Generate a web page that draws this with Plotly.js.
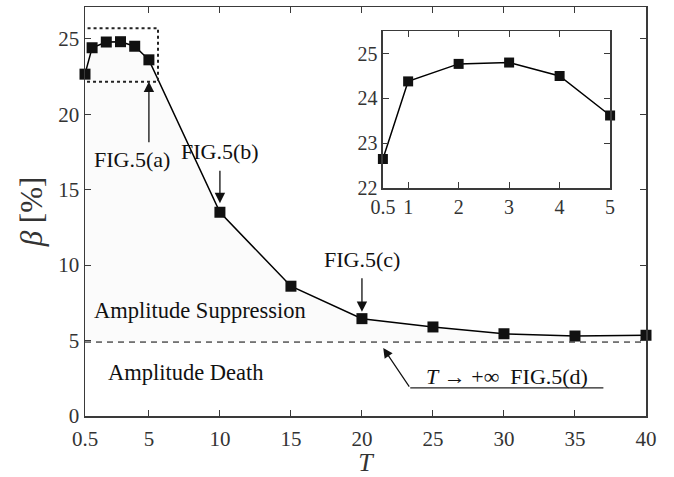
<!DOCTYPE html>
<html>
<head>
<meta charset="utf-8">
<script src="https://cdn.plot.ly/plotly-3.0.1.min.js"></script>
<style>html,body{margin:0;padding:0;background:#fff}#chart{width:674px;height:477px}</style>
</head>
<body>
<div id="chart"></div>
<script>
// Data
var T = [0.5, 1, 2, 3, 4, 5, 10, 15, 20, 25, 30, 35, 40];
var beta = [22.65, 24.4, 24.78, 24.8, 24.5, 23.6, 13.5, 8.6, 6.45, 5.9, 5.45, 5.3, 5.35];
var insetT = [0.5, 1, 2, 3, 4, 5];
var insetBeta = [22.65, 24.38, 24.77, 24.8, 24.5, 23.62];
var deathLevel = 4.9;
var xTicks = [0.5, 5, 10, 15, 20, 25, 30, 35, 40];
var xTickText = ['0.5', '5', '10', '15', '20', '25', '30', '35', '40'];
var yTicks = [0, 5, 10, 15, 20, 25];
var insetXTicks = [0.5, 1, 2, 3, 4, 5];
var insetXTickText = ['0.5', '1', '2', '3', '4', '5'];
var insetYTicks = [22, 23, 24, 25];

var font = 'Liberation Serif, Times New Roman, serif';
var frame = '#3a3a3a';

var traces = [
  {x: [xTicks[0], xTicks[xTicks.length - 1]], y: [deathLevel, deathLevel], mode: 'lines',
   line: {color: '#000', width: 1, dash: '6px,5px'}, hoverinfo: 'skip', showlegend: false},
  {x: T, y: beta, mode: 'lines+markers', fill: 'tonexty', fillcolor: '#fbfbfb', cliponaxis: false,
   line: {color: '#000', width: 1.5}, marker: {symbol: 'square', size: 11, color: '#111'}, showlegend: false},
  {x: insetT, y: insetBeta, xaxis: 'x2', yaxis: 'y2', mode: 'lines+markers', cliponaxis: false,
   line: {color: '#000', width: 1.5}, marker: {symbol: 'square', size: 10, color: '#111'}, showlegend: false}
];

var axCommon = {showline: true, linecolor: frame, linewidth: 1.5, mirror: 'ticks', ticks: 'inside',
  ticklen: 6, tickcolor: frame, tickwidth: 1, showgrid: false, zeroline: false,
  tickfont: {family: font, size: 21, color: '#333'}};

var layout = {
  width: 674, height: 477,
  margin: {l: 85, r: 28, t: 7, b: 61},
  paper_bgcolor: '#fff', plot_bgcolor: '#fff',
  font: {family: font, color: '#111'},
  xaxis: Object.assign({}, axCommon, {range: [0.5, 40], tickvals: xTicks, ticktext: xTickText,
    ticklabelstandoff: 3,
    title: {text: '<i>T</i>', font: {family: font, size: 26, color: '#333'}, standoff: 0}}),
  yaxis: Object.assign({}, axCommon, {range: [0, 27.1], tickvals: yTicks,
    title: {text: '<i>β</i> [%]', font: {family: font, size: 31, color: '#333'}, standoff: 6}}),
  xaxis2: Object.assign({}, axCommon, {domain: [0.531, 0.936], anchor: 'y2', range: [0.5, 5],
    tickvals: insetXTicks, ticktext: insetXTickText, tickfont: {family: font, size: 20, color: '#333'}}),
  yaxis2: Object.assign({}, axCommon, {domain: [0.557, 0.941], anchor: 'x2', range: [22, 25.5],
    tickvals: insetYTicks, tickfont: {family: font, size: 20, color: '#333'}}),
  shapes: [
    {type: 'rect', xref: 'x', yref: 'y', x0: 0.22, x1: 5.64, y0: 22.15, y1: 25.7,
     line: {color: '#222', width: 2, dash: 'dot'}},
    {type: 'line', xref: 'x', yref: 'y', x0: 23.4, x1: 37.0, y0: 1.86, y1: 1.86,
     line: {color: '#222', width: 1.2}}
  ],
  annotations: [
    {x: 5, y: 22.15, ax: 0, ay: 62, text: '', showarrow: true, arrowhead: 2, arrowsize: 1.6, arrowwidth: 1.3, arrowcolor: '#111'},
    {x: 3.81, y: 17.0, text: 'FIG.5(a)', showarrow: false, font: {family: font, size: 22, color: '#111'}},
    {x: 10, y: 14.1, ax: 0, ay: -34, text: '', showarrow: true, arrowhead: 2, arrowsize: 1.6, arrowwidth: 1.3, arrowcolor: '#111'},
    {x: 10, y: 17.5, text: 'FIG.5(b)', showarrow: false, font: {family: font, size: 22, color: '#111'}},
    {x: 20, y: 6.9, ax: 0, ay: -35, text: '', showarrow: true, arrowhead: 2, arrowsize: 1.6, arrowwidth: 1.3, arrowcolor: '#111'},
    {x: 20, y: 10.35, text: 'FIG.5(c)', showarrow: false, font: {family: font, size: 22, color: '#111'}},
    {x: 21.5, y: 4.5, ax: 27, ay: 40, text: '', showarrow: true, arrowhead: 2, arrowsize: 1.6, arrowwidth: 1.2, arrowcolor: '#111'},
    {x: 30.2, y: 2.65, text: '<i>T</i> → +∞  FIG.5(d)', showarrow: false, font: {family: font, size: 22, color: '#111'}},
    {x: 8.6, y: 7.0, text: 'Amplitude Suppression', showarrow: false, font: {family: font, size: 22.5, color: '#111'}},
    {x: 7.6, y: 2.85, text: 'Amplitude Death', showarrow: false, font: {family: font, size: 22.5, color: '#111'}}
  ]
};

Plotly.newPlot('chart', traces, layout, {displayModeBar: false, staticPlot: true});
</script>
</body>
</html>
